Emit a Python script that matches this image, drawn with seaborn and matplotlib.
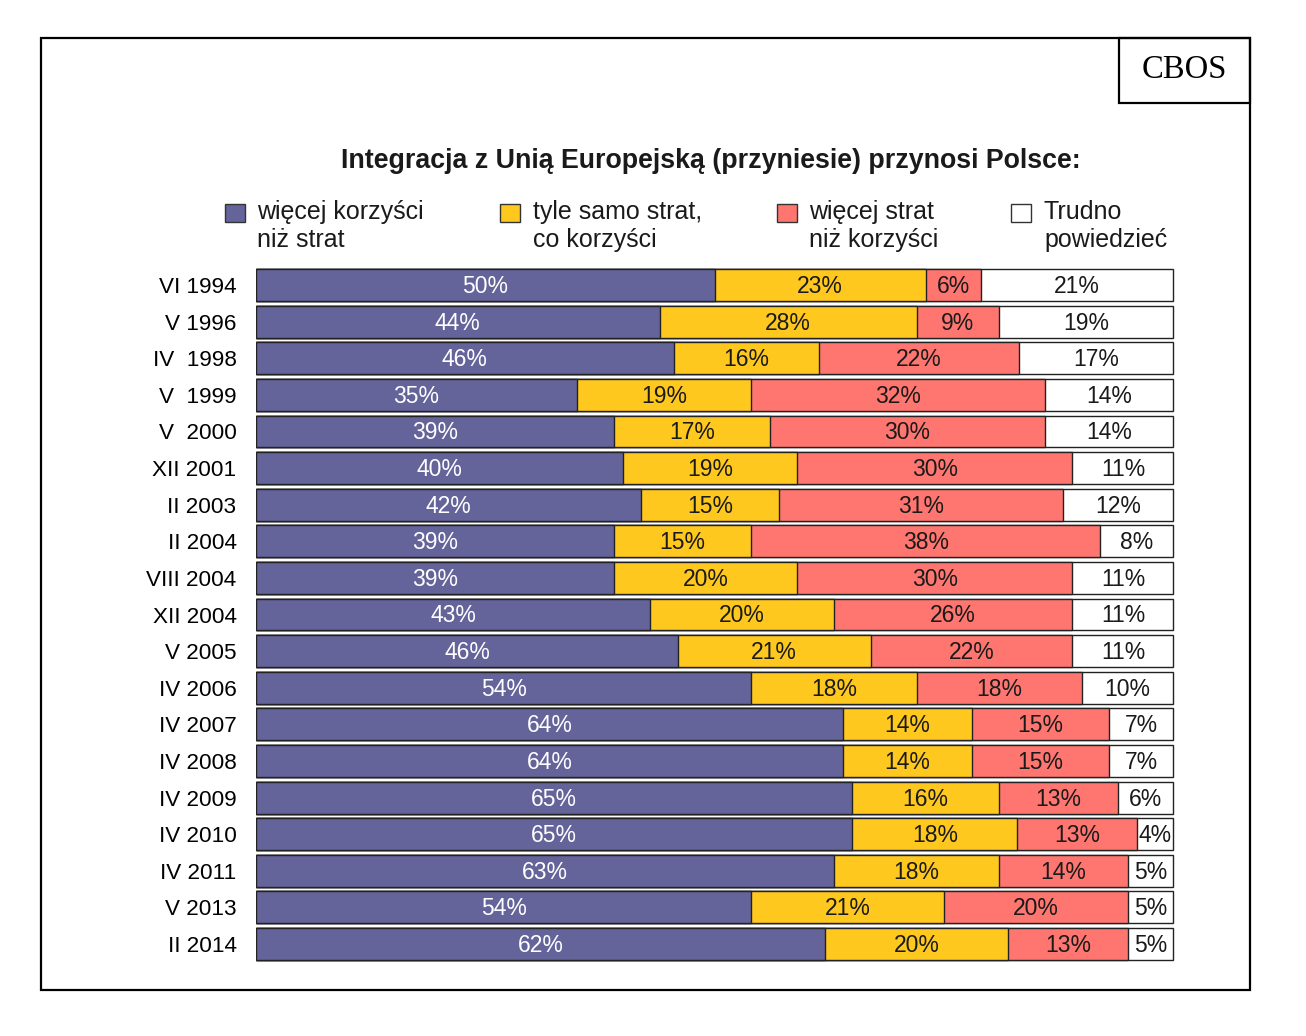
import numpy as np
import pandas as pd
import matplotlib.pyplot as plt
from matplotlib.patches import Rectangle
import seaborn as sns

# data
periods = ['VI 1994', 'V 1996', 'IV  1998', 'V  1999', 'V  2000', 'XII 2001', 'II 2003',
           'II 2004', 'VIII 2004', 'XII 2004', 'V 2005', 'IV 2006', 'IV 2007', 'IV 2008',
           'IV 2009', 'IV 2010', 'IV 2011', 'V 2013', 'II 2014']
benefits = [50, 44, 46, 35, 39, 40, 42, 39, 39, 43, 46, 54, 64, 64, 65, 65, 63, 54, 62]
equal = [23, 28, 16, 19, 17, 19, 15, 15, 20, 20, 21, 18, 14, 14, 16, 18, 18, 21, 20]
losses = [6, 9, 22, 32, 30, 30, 31, 38, 30, 26, 22, 18, 15, 15, 13, 13, 14, 20, 13]
hard_to_say = [21, 19, 17, 14, 14, 11, 12, 8, 11, 11, 11, 10, 7, 7, 6, 4, 5, 5, 5]
legend_labels = ['więcej korzyści\nniż strat', 'tyle samo strat,\nco korzyści',
                 'więcej strat\nniż korzyści', 'Trudno\npowiedzieć']

colors = ['#64639a', '#ffc81e', '#ff7670', '#ffffff']
text_colors = ['white', '#1a1a1a', '#1a1a1a', '#1a1a1a']

df = pd.DataFrame({'period': periods, 'b': benefits, 'e': equal, 'l': losses, 'h': hard_to_say})
cols = ['b', 'e', 'l', 'h']
# bars are drawn to full width (rows summing to 99/101 get rescaled)
share = df[cols].div(df[cols].sum(axis=1), axis=0) * 100
cum = share.cumsum(axis=1)

plt.rcParams['font.family'] = ['Liberation Sans', 'DejaVu Sans']
fig = plt.figure(figsize=(13.06, 10.36), dpi=100)
ax = fig.add_axes([0.196, 0.0711, 0.7035, 0.6715])

# stacked bars: draw cumulative totals from widest to narrowest
for i in range(3, -1, -1):
    sns.barplot(x=cum[cols[i]], y=df['period'], orient='h', color=colors[i],
                edgecolor='#222222', linewidth=1.0, width=0.87, saturation=1, ax=ax)

for r in range(len(df)):
    left = 0
    for i, c in enumerate(cols):
        w = share[c].iloc[r]
        ax.text(left + w / 2, r + 0.04, f'{df[c].iloc[r]}%', ha='center', va='center',
                fontsize=16.5, color=text_colors[i])
        left += w

ax.set_xlim(0, 100.15)
ax.set_ylim(len(df) - 0.5, -0.5)
ax.set_xlabel('')
ax.set_ylabel('')
ax.set_xticks([])
ax.tick_params(axis='y', length=0, labelsize=16.2, pad=14)
for s in ax.spines.values():
    s.set_visible(False)

# title
fig.text(0.544, 1 - 161 / 1036, 'Integracja z Unią Europejską (przyniesie) przynosi Polsce:',
         ha='center', va='center', fontsize=19.3, fontweight='bold', color='#1a1a1a')

# legend
W, H = 1306, 1036
sq_x = [225, 500, 777, 1011]
tx_x = [257, 533, 809, 1044]
for i in range(4):
    fig.patches.append(Rectangle((sq_x[i] / W, 1 - 222 / H), 20 / W, 18 / H,
                                 transform=fig.transFigure, facecolor=colors[i],
                                 edgecolor='#333333', linewidth=1.0))
    fig.text(tx_x[i] / W, 1 - 226 / H, legend_labels[i], ha='left', va='center',
             fontsize=18, color='#1a1a1a', linespacing=1.25)

# outer frame and CBOS box
fig.patches.append(Rectangle((41 / W, 1 - 990 / H), (1250 - 41) / W, (990 - 38) / H,
                             transform=fig.transFigure, fill=False, edgecolor='black', linewidth=1.6))
fig.patches.append(Rectangle((1119 / W, 1 - 103 / H), (1250 - 1119) / W, (103 - 38) / H,
                             transform=fig.transFigure, fill=False, edgecolor='black', linewidth=1.6))
fig.text(1184 / W, 1 - 70 / H, 'CBOS', ha='center', va='center', fontsize=23.5,
         family=['Liberation Serif', 'DejaVu Serif'])

fig.savefig('out.png', dpi=100, facecolor='white')
